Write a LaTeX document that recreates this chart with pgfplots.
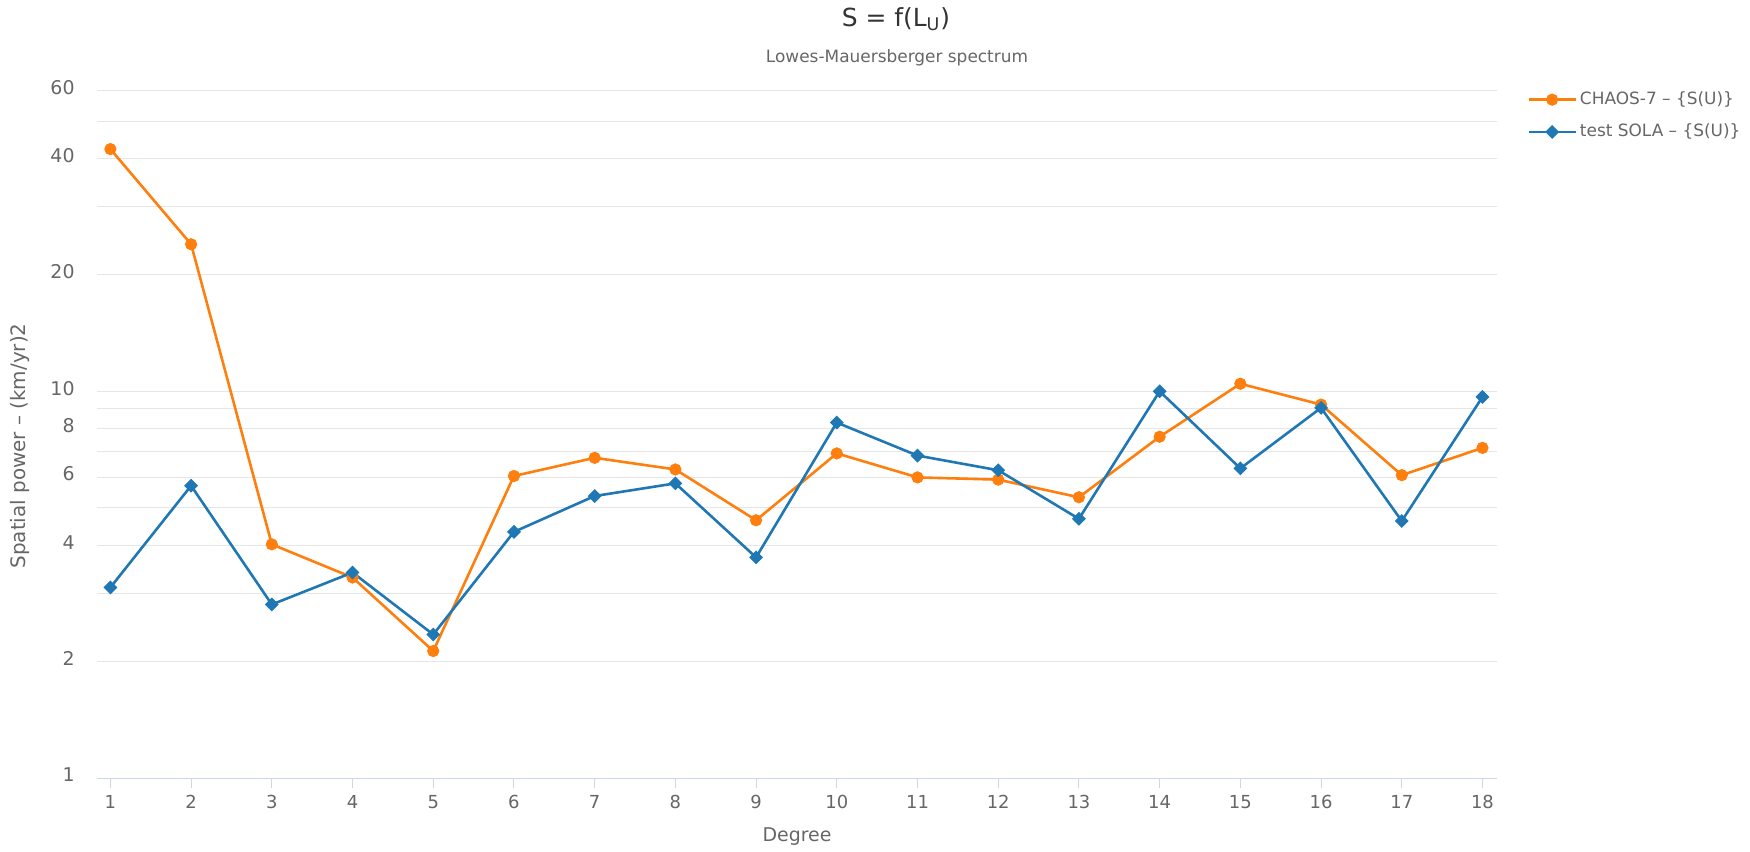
\documentclass[border=0pt]{standalone}
\usepackage{fontspec}
\setmainfont{DejaVu Sans}
\usepackage{pgfplots}
\pgfplotsset{compat=1.18}
\definecolor{orng}{RGB}{255,127,14}
\definecolor{blu}{RGB}{31,119,180}
\definecolor{gridc}{RGB}{230,230,230}
\definecolor{axc}{RGB}{204,214,235}
\definecolor{txt}{RGB}{102,102,102}
\definecolor{ttl}{RGB}{51,51,51}
\begin{document}
\begin{tikzpicture}
\useasboundingbox (-48.5bp,-37bp) rectangle (826.5bp,389bp);
\begin{axis}[
  at={(0pt,0pt)}, anchor=south west,
  scale only axis, width=700bp, height=343.8bp,
  ymode=log, ymin=1, ymax=60, xmin=0.834, xmax=18.18,
  xtick={1,...,18},
  ytick={1,2,4,6,8,10,20,40,60}, yticklabels={1,2,4,6,8,10,20,40,60},
  minor ytick={3,5,7,9,30,50},
  ymajorgrids, yminorgrids,
  grid style={gridc, line width=0.5bp},
  minor grid style={gridc, line width=0.5bp},
  axis x line*=bottom, axis y line*=left,
  x axis line style={axc, line width=0.5bp, -},
  y axis line style={draw=none},
  xtick align=outside, major tick length=5bp, minor tick length=0pt,
  xtick style={axc, line width=0.5bp},
  ytick style={draw=none},
  x tick label style={font=\fontsize{9}{10}\selectfont, text=txt},
  y tick label style={font=\fontsize{9.5}{10}\selectfont, text=txt, xshift=-7.7bp, yshift=1.5bp},
  /pgf/number format/assume math mode=true,
  clip=false,
  legend style={at={(1.0214,1.003)}, anchor=north west, draw=none, fill=none,
    font=\fontsize{8.5}{10}\selectfont, text=txt, row sep=5.2bp, inner sep=0pt,
    nodes={inner sep=1.5bp}},
  legend cell align=left,
  legend image code/.code={\draw[mark repeat=2,mark phase=2,#1] plot coordinates {(0bp,0bp) (11.75bp,0bp) (23.5bp,0bp)};},
]
\addplot[orng, line width=1.3bp, mark=*, mark size=2.8bp, mark options={solid, fill=orng, draw=orng, line width=0.5bp}] coordinates {
(1,42.3) (2,24.0) (3,4.02) (4,3.30) (5,2.13) (6,6.04) (7,6.73) (8,6.28) (9,4.64)
(10,6.91) (11,5.99) (12,5.91) (13,5.32) (14,7.63) (15,10.46) (16,9.24) (17,6.07) (18,7.14)};
\addlegendentry{CHAOS-7 – \{S(U)\}}
\addplot[blu, line width=1.3bp, mark=square*, mark size=2.2bp, mark options={solid, rotate=45, fill=blu, draw=blu, line width=0.5bp}] coordinates {
(1,3.11) (2,5.70) (3,2.81) (4,3.40) (5,2.35) (6,4.33) (7,5.36) (8,5.78) (9,3.72)
(10,8.30) (11,6.82) (12,6.25) (13,4.68) (14,10.0) (15,6.32) (16,9.06) (17,4.62) (18,9.67)};
\addlegendentry{test SOLA – \{S(U)\}}
\end{axis}
\node[font=\fontsize{12.5}{14}\selectfont, text=ttl] at (399.5bp,379.5bp) {S = f(L\textsubscript{U})};
\node[font=\fontsize{8.5}{10}\selectfont, text=txt] at (400bp,360bp) {Lowes-Mauersberger spectrum};
\node[rotate=90, font=\fontsize{10}{11}\selectfont, text=txt] at (-38.5bp,166bp) {Spatial power – (km/yr)2};
\node[font=\fontsize{9.5}{11}\selectfont, text=txt] at (350bp,-29.5bp) {Degree};
\end{tikzpicture}
\end{document}
